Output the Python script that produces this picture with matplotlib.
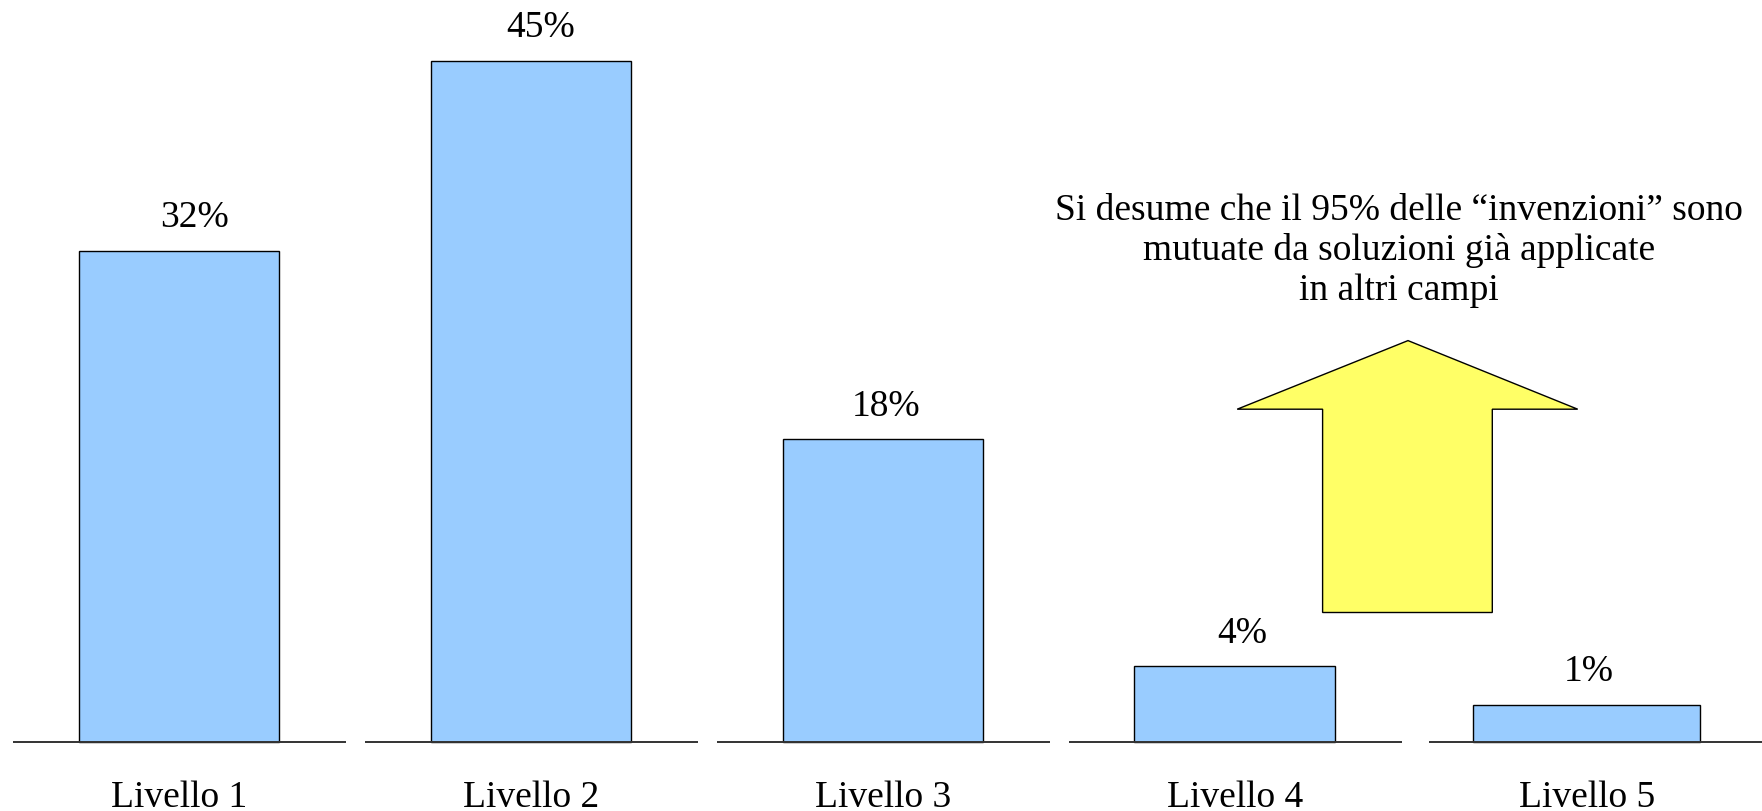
import matplotlib.pyplot as plt
from matplotlib.patches import Polygon

plt.rcParams['font.family'] = ['Liberation Serif', 'DejaVu Serif']

# data
categories = ['Livello 1', 'Livello 2', 'Livello 3', 'Livello 4', 'Livello 5']
value_labels = ['32%', '45%', '18%', '4%', '1%']
# bar heights as drawn in the original (same % scale, the small ones are drawn taller)
bar_heights = [32.45, 45.0, 20.0, 5.0, 2.45]
note = 'Si desume che il 95% delle \u201cinvenzioni\u201d sono\nmutuate da soluzioni gi\u00e0 applicate\nin altri campi'

# layout
bar_widths = [0.568, 0.568, 0.568, 0.571, 0.645]
label_dx = [0.045, 0.028, 0.009, 0.022, 0.005]
bar_color = '#99CCFF'
arrow_color = '#FFFF66'
fs = 27

fig = plt.figure(figsize=(17.62, 8.12), dpi=100)
ax = fig.add_axes([0, 0, 1, 1])
ax.set_xlim(-0.508, 4.498)
ax.set_ylim(-4.57, 49.09)
ax.axis('off')

x = list(range(len(categories)))
ax.bar(x, bar_heights, width=bar_widths, color=bar_color,
       edgecolor='black', linewidth=1.0, zorder=2)

# separate baseline under each bar
for i in x:
    left = i - 0.47
    right = i + 0.475 if i < 4 else 4.6
    if i == 4:
        left = i - 0.447
    ax.hlines(0, left, right, color='#333333', linewidth=1.4, zorder=3)

for i, h in enumerate(bar_heights):
    ax.text(i + label_dx[i], h + 2.23, value_labels[i], ha='center', va='center', fontsize=fs)
    ax.text(i, -3.62, categories[i], ha='center', va='center', fontsize=fs)

# big yellow arrow pointing to the note
W, H = 1762.0, 812.0
pts = [(1408, 341.6), (1577.7, 410.2), (1492.3, 410.2), (1492.3, 613.5),
       (1322.6, 613.5), (1322.6, 410.2), (1237.2, 410.2)]
arrow = Polygon([(px / W, 1 - py / H) for px, py in pts], closed=True,
                facecolor=arrow_color, edgecolor='black', linewidth=1.0,
                transform=fig.transFigure)
fig.patches.append(arrow)

fig.text(1399 / W, 1 - 250.5 / H, note, ha='center', va='center',
         multialignment='center', fontsize=fs, linespacing=1.2)

fig.savefig('out.png', dpi=100)
